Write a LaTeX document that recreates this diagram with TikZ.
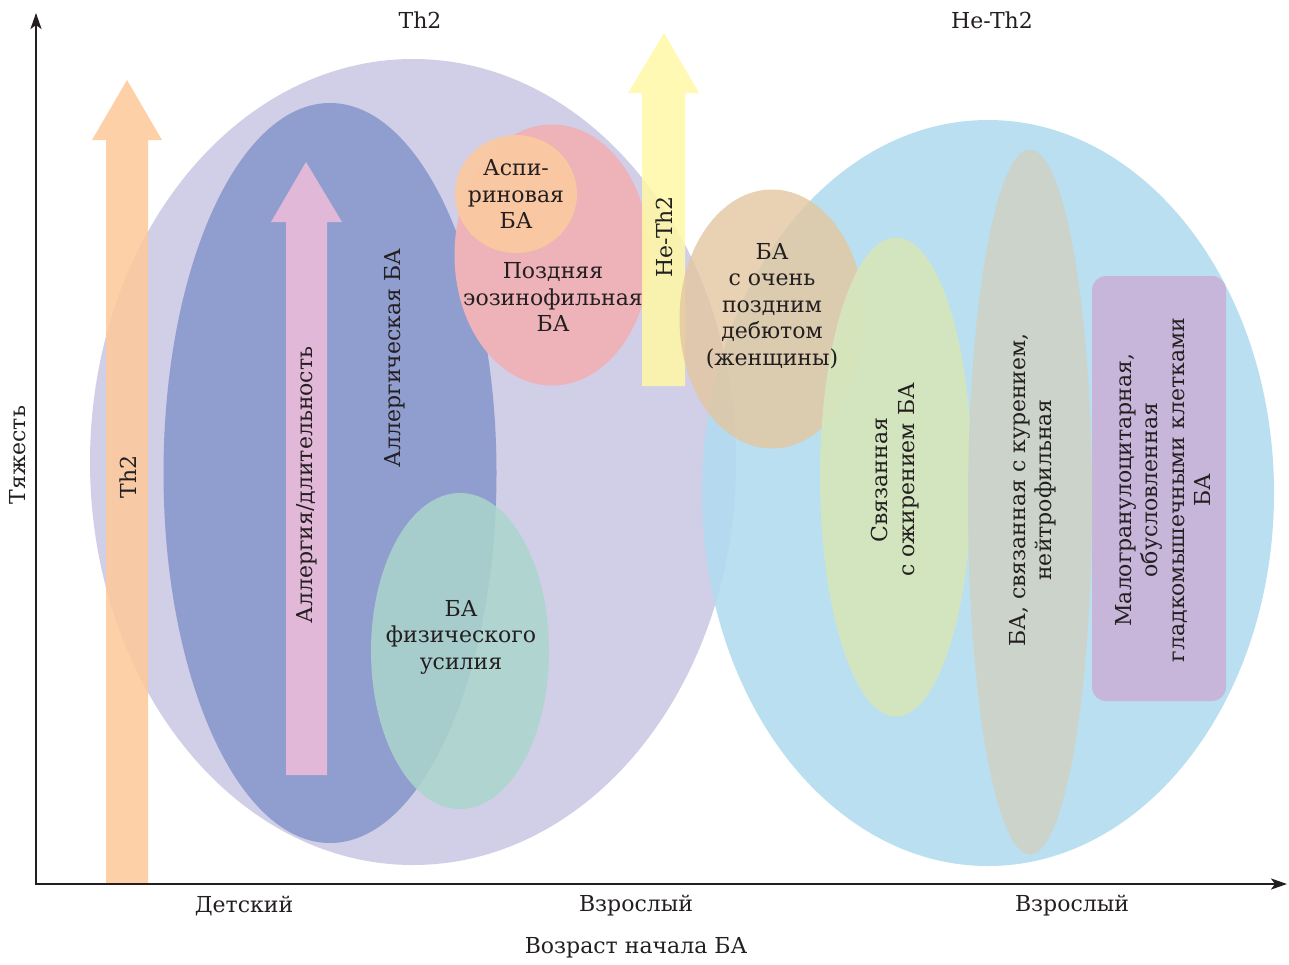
\documentclass[tikz,border=0pt]{standalone}
\usepackage{fontspec}
\setmainfont{DejaVu Serif}
\usetikzlibrary{shapes.geometric,arrows.meta}
\definecolor{lav}{HTML}{D1CEE7}
\definecolor{bviol}{HTML}{8F9DCF}
\definecolor{pinkarr}{HTML}{E2B8D8}
\definecolor{orarr}{HTML}{FDC99B}
\definecolor{greenel}{HTML}{ABD6CC}
\definecolor{redel}{HTML}{EDB3B9}
\definecolor{aspel}{HTML}{FBC9A0}
\definecolor{yelarr}{HTML}{FFF8A8}
\definecolor{blueel}{HTML}{B3DCF0}
\definecolor{tanel}{HTML}{E3C7A0}
\definecolor{lgreen}{HTML}{D5E6BC}
\definecolor{grayel}{HTML}{CDD3C9}
\definecolor{purp}{HTML}{C9B3D8}
\definecolor{txt}{HTML}{231F20}
\tikzset{
  blob/.style={ellipse, draw=none, inner sep=0pt},
  lbl/.style={text=txt, align=center, inner sep=0pt, font=\fontsize{22}{26.5}\selectfont},
  axis/.style={draw=txt, line width=2.2pt, -{Stealth[length=16pt,width=11pt,inset=4pt]}}
}
\begin{document}
\begin{tikzpicture}[x=1pt,y=-1pt]
\useasboundingbox (0,0) rectangle (1289,964);
% Th2 group
\node[blob, fill=lav, minimum width=646, minimum height=806] (th2el) at (413,462) {};
\fill[orarr, opacity=0.88] (106,884) -- (106,140) -- (92,140) -- (127,80) -- (162,140) -- (148,140) -- (148,884) -- cycle;
\node[blob, fill=bviol, minimum width=333, minimum height=740] (allel) at (330,473) {};
\fill[pinkarr] (286,775) -- (286,222) -- (271,222) -- (306,162) -- (342,222) -- (327,222) -- (327,775) -- cycle;
\node[blob, fill=greenel, fill opacity=0.85, minimum width=178, minimum height=316] (exel) at (460,651) {};
\node[blob, fill=redel, minimum width=195, minimum height=261] (eosel) at (552,255) {};
\node[blob, fill=aspel, fill opacity=0.92, minimum width=122, minimum height=118] (aspel) at (516,194) {};
\fill[yelarr, opacity=0.88] (642,386) -- (642,93) -- (628,93) -- (664,33) -- (699,93) -- (685,93) -- (685,386) -- cycle;
% non-Th2 group
\node[blob, fill=blueel, fill opacity=0.92, minimum width=572, minimum height=746] (nth2el) at (988,493) {};
\node[blob, fill=tanel, fill opacity=0.8, minimum width=185, minimum height=259] (lateel) at (772,319) {};
\node[blob, fill=lgreen, fill opacity=0.95, minimum width=152, minimum height=479] (obel) at (896,477) {};
\node[blob, fill=grayel, fill opacity=0.95, minimum width=124, minimum height=705] (smel) at (1030,502) {};
\node[draw=none, fill=purp, fill opacity=0.92, rounded corners=14pt, minimum width=134, minimum height=425, inner sep=0pt] (pgrect) at (1159,488.5) {};
% axes
\coordinate (orig) at (36,884);
\coordinate (ytip) at (36,13);
\coordinate (xtip) at (1287,884);
\draw[axis] (orig) -- (ytip);
\draw[axis] ([xshift=-1.1pt]orig) -- (xtip);
% labels
\node[lbl] (tTh2) at (420,20) {Th2};
\node[lbl] (tNTh2) at (992,20) {Не-Th2};
\node[lbl] (tChild) at (244,906) {Детский};
\node[lbl] (tAdult1) at (636,906) {Взрослый};
\node[lbl] (tAdult2) at (1072,906) {Взрослый};
\node[lbl] (tAge) at (636,948) {Возраст начала БА};
\node[lbl, rotate=90] (tSev) at (18,455) {Тяжесть};
\node[lbl, rotate=90] (tArrTh2) at (128,477) {Th2};
\node[lbl, rotate=90] (tAll) at (395,358) {Аллергическая БА};
\node[lbl, rotate=90] (tAllDur) at (307,485) {Аллергия/длительность};
\node[lbl] (tEx) at (461,637) {БА\\физического\\усилия};
\node[lbl] (tAsp) at (516,194) {Аспи-\\риновая\\БА};
\node[lbl] (tEos) at (553,297) {Поздняя\\эозинофильная\\БА};
\node[lbl, rotate=90] (tArrNTh2) at (664,237) {Не-Th2};
\node[lbl] (tLate) at (772,306) {БА\\с очень\\поздним\\дебютом\\(женщины)};
\node[lbl, rotate=90] (tOb) at (895,480) {Связанная\\с ожирением БА};
\node[lbl, rotate=90] (tSm) at (1033,490) {БА, связанная с курением,\\нейтрофильная};
\node[lbl, rotate=90] (tPg) at (1163,490) {Малогранулоцитарная,\\обусловленная\\гладкомышечными клетками\\БА};
\end{tikzpicture}
\end{document}
